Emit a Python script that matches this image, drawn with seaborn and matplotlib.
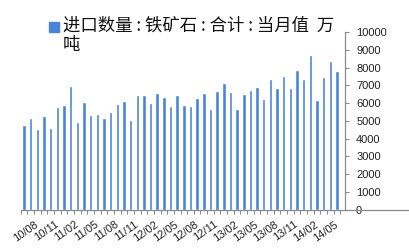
import matplotlib
matplotlib.use("Agg")
import matplotlib.pyplot as plt
import matplotlib.patches as mpatches
import seaborn as sns
import pandas as pd

months = ["10/06", "10/07", "10/08", "10/09", "10/10", "10/11", "10/12",
          "11/01", "11/02", "11/03", "11/04", "11/05", "11/06", "11/07", "11/08", "11/09", "11/10", "11/11", "11/12",
          "12/01", "12/02", "12/03", "12/04", "12/05", "12/06", "12/07", "12/08", "12/09", "12/10", "12/11", "12/12",
          "13/01", "13/02", "13/03", "13/04", "13/05", "13/06", "13/07", "13/08", "13/09", "13/10", "13/11", "13/12",
          "14/01", "14/02", "14/03", "14/04", "14/05"]
imports = [4790, 5160, 4520, 5290, 4615, 5780, 5875, 6950, 4915, 6040, 5350, 5405,
           5150, 5500, 5980, 6120, 5070, 6480, 6480, 5990, 6560, 6375, 5840, 6480,
           5875, 5840, 6320, 6575, 5690, 6670, 7150, 6610, 5690, 6530, 6770, 6900,
           6260, 7380, 6870, 7530, 6850, 7850, 7380, 8740, 6180, 7475, 8390, 7815]
shown_labels = ["10/08", "10/11", "11/02", "11/05", "11/08", "11/11", "12/02", "12/05",
                "12/08", "12/11", "13/02", "13/05", "13/08", "13/11", "14/02", "14/05"]
yticks = [0, 1000, 2000, 3000, 4000, 5000, 6000, 7000, 8000, 9000, 10000]
legend_label = "进口数量 : 铁矿石 : 合计 : 当月值  万\n吨"

df = pd.DataFrame({"month": months, "value": imports})

sns.set_style("white")
plt.rcParams["font.family"] = ["Liberation Sans", "Noto Sans CJK SC", "DejaVu Sans"]

W, H = 410, 248
fig = plt.figure(figsize=(W / 100, H / 100), dpi=100)
x0_px = 20.7
ax = fig.add_axes([x0_px / W, (H - 209.5) / H, 1 - x0_px / W, (209.5 - 32.3) / H])

bar_color = "#4a84d8"
sns.barplot(data=df, x="month", y="value", color=bar_color, saturation=1,
            width=0.52, ax=ax, errorbar=None, order=months)

step = (337.0 - 24.0) / 47.0
right_lim = (W - 24.0) / step
ax.set_xlim(-0.5, right_lim)
ax.set_ylim(0, 10000)

# spines
for s in ["left", "top"]:
    ax.spines[s].set_visible(False)
ax.spines["bottom"].set_color("#8c8c8c")
ax.spines["bottom"].set_linewidth(0.9)
ax.spines["right"].set_color("#8c8c8c")
ax.spines["right"].set_linewidth(0.9)
ax.spines["right"].set_position(("data", (345.0 - 24.0) / step))
ax.spines["right"].set_bounds(0, 10000)

# y axis on right
ax.yaxis.tick_right()
ax.set_yticks(yticks)
ax.set_yticklabels([str(v) for v in yticks])
ax.tick_params(axis="y", which="major", direction="out", length=3, width=0.8,
               color="#8c8c8c", pad=5, labelsize=8, labelcolor="#222222")
ax.set_ylabel("")
ax.set_xlabel("")

# x ticks: marks at category boundaries, labels at every 3rd month
label_pos = [months.index(m) for m in shown_labels]
ax.set_xticks(label_pos)
ax.set_xticklabels(shown_labels, rotation=35, ha="right", va="center",
                   rotation_mode="anchor")
ax.set_xticks([i - 0.5 for i in range(len(months) + 1)], minor=True)
ax.tick_params(axis="x", which="major", length=0, pad=10, labelsize=8,
               labelcolor="#222222")
ax.tick_params(axis="x", which="minor", direction="out", length=3, width=0.8,
               color="#8c8c8c", bottom=True)
ax.grid(False)

# legend
fig.patches.append(mpatches.Rectangle((49 / W, 1 - 32 / H), 10 / W, 10 / H,
                                      transform=fig.transFigure, color=bar_color))
fig.text(63 / W, 1 - 17 / H, legend_label, ha="left", va="top", fontsize=12.5,
         family=["Noto Sans CJK SC", "DejaVu Sans"], color="#111111",
         linespacing=1.05)

fig.savefig("out.png", dpi=100)
